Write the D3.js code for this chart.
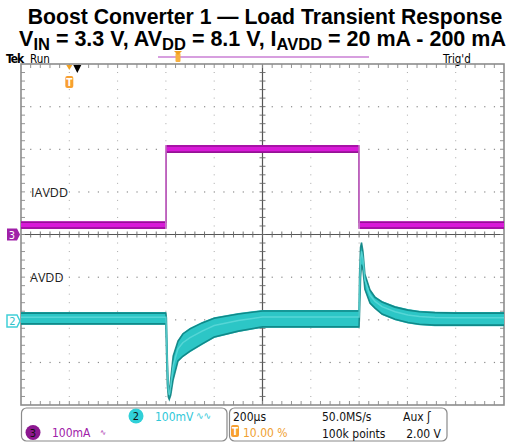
<!DOCTYPE html>
<html><head><meta charset="utf-8">
<script src="https://cdn.jsdelivr.net/npm/d3@7"></script>
<style>
html,body{margin:0;padding:0;background:#fff;}
svg{display:block;}
</style></head>
<body>
<svg id="c" width="515" height="444"></svg>
<script>
// ---- data (time in µs relative to trigger, 200 µs/div) ----
const timeTicks = [-200, 0, 200, 400, 600, 800, 1000, 1200, 1400, 1600, 1800];
// Channel 3: IAVDD current band (mA), 100 mA/div
const curTime = [-200, 400, 400, 1200, 1200, 1800];
const curHigh = [31, 31, 210, 210, 31, 31];
const curLow  = [13, 13, 191, 191, 13, 13];
// Channel 2: AVDD ripple band (mV, AC), 100 mV/div
const volTime = [-200, 400, 402, 406, 410, 414, 420, 430, 450, 470, 500, 550, 600, 700, 800, 1000, 1200, 1202, 1206, 1210, 1216, 1224, 1245, 1266, 1295, 1349, 1402, 1450, 1514, 1600, 1800];
const volHigh = [21, 21, 10, -90, -150, -165, -135, -80, -45, -28, -16, -2, 9, 19, 26, 26, 26, 110, 175, 186, 165, 112, 75, 58, 47, 35, 28, 24, 22, 21, 21];
const volLow  = [-9, -9, -60, -150, -180, -186, -176, -140, -96, -85, -73, -56, -40, -26, -16, -16, -16, 20, 100, 130, 118, 72, 40, 28, 14, 2, -6, -10, -12, -12, -12];
const ch2Offset = 203; // marker position (mV relative to centre)
const chan2Label = "100mV", chan3Label = "100mA";
const timebase = "200µs", sampleRate = "50.0MS/s", recordLen = "100k points", trigPos = "10.00 %", trigSrc = "Aux", trigLevel = "2.00 V";

const svg = d3.select("#c");
const L = 21, R = 504, T = 64, B = 405;
const x = d3.scaleLinear().domain([-200, 1800]).range([L, R]);
const yI = d3.scaleLinear().domain([-400, 400]).range([B, T]);
const yV = d3.scaleLinear().domain([-400 + ch2Offset, 400 + ch2Offset]).range([B, T]);
const divX = (R - L) / 10, divY = (B - T) / 8;

// ---- title ----
svg.append("text").attr("x", 265).attr("y", 23.5).attr("text-anchor", "middle")
  .attr("font-family", "Liberation Sans, Arial, sans-serif").attr("font-weight", "bold").attr("font-size", 21.2).attr("fill", "#000")
  .text("Boost Converter 1 — Load Transient Response");
const sub = svg.append("text").attr("x", 262.5).attr("y", 46).attr("text-anchor", "middle")
  .attr("font-family", "Liberation Sans, Arial, sans-serif").attr("font-weight", "bold").attr("font-size", 21.5).attr("fill", "#000");
const parts = [["V",0],["IN",1],[" = 3.3 V, AV",0],["DD",1],[" = 8.1 V, I",0],["AVDD",1],[" = 20 mA - 200 mA",0]];
parts.forEach((p, i) => {
  const t = sub.append("tspan").text(p[0]);
  if (p[1]) t.attr("font-size", 16.5).attr("dy", 4);
  else if (i > 0) t.attr("dy", -4);
});

// ---- scope header ----
const ui = "DejaVu Sans Condensed, DejaVu Sans, sans-serif";
svg.append("text").attr("x", 6).attr("y", 63).attr("font-family", ui).attr("font-weight", "bold").attr("font-size", 12).attr("letter-spacing", -1).text("Tek");
svg.append("text").attr("x", 30).attr("y", 63).attr("font-family", ui).attr("font-size", 11.5).text("Run");
svg.append("text").attr("x", 443).attr("y", 63).attr("font-family", ui).attr("font-size", 11.5).text("Trig'd");
svg.append("line").attr("x1", 158).attr("x2", 369).attr("y1", 57).attr("y2", 57).attr("stroke", "#b040c0").attr("stroke-width", 1.2);
svg.append("rect").attr("x", 175.5).attr("y", 53).attr("width", 5).attr("height", 9).attr("rx", 1).attr("fill", "#f8b040");
svg.append("path").attr("d", "M174,51 L182,51 L178,55 Z").attr("fill", "#f0a020");

// ---- graticule ----
const g = svg.append("g");
for (let i = 1; i < 10; i++) {
  if (i === 5) continue;
  const xx = L + i * divX;
  for (let k = 1; k < 40; k++) {
    if (k % 5 === 0) continue;
    g.append("rect").attr("x", xx - 0.5).attr("y", T + k * divY / 5 - 0.5).attr("width", 1).attr("height", 1).attr("fill", "#a8a8a8");
  }
}
for (let j = 1; j < 8; j++) {
  if (j === 4) continue;
  const yy = T + j * divY;
  for (let k = 1; k < 50; k++) {
    g.append("rect").attr("x", L + k * divX / 5 - 0.5).attr("y", yy - 0.5).attr("width", 1.2).attr("height", 1.2).attr("fill", "#8a8a8a");
  }
}
const cx = L + 5 * divX, cy = T + 4 * divY;
g.append("line").attr("x1", L).attr("x2", R).attr("y1", cy).attr("y2", cy).attr("stroke", "#555").attr("stroke-width", 1.2);
g.append("line").attr("x1", cx).attr("x2", cx).attr("y1", T).attr("y2", B).attr("stroke", "#555").attr("stroke-width", 1.2);
for (let k = 1; k < 50; k++) {
  const xx = L + k * divX / 5;
  g.append("line").attr("x1", xx).attr("x2", xx).attr("y1", cy - 3).attr("y2", cy + 3).attr("stroke", "#666").attr("stroke-width", 0.9);
  g.append("line").attr("x1", xx).attr("x2", xx).attr("y1", T).attr("y2", T + 4).attr("stroke", "#888").attr("stroke-width", 0.9);
  g.append("line").attr("x1", xx).attr("x2", xx).attr("y1", B - 4).attr("y2", B).attr("stroke", "#888").attr("stroke-width", 0.9);
}
for (let k = 1; k < 40; k++) {
  const yy = T + k * divY / 5;
  g.append("line").attr("x1", cx - 3).attr("x2", cx + 3).attr("y1", yy).attr("y2", yy).attr("stroke", "#666").attr("stroke-width", 0.9);
  g.append("line").attr("x1", L).attr("x2", L + 4).attr("y1", yy).attr("y2", yy).attr("stroke", "#888").attr("stroke-width", 0.9);
  g.append("line").attr("x1", R - 4).attr("x2", R).attr("y1", yy).attr("y2", yy).attr("stroke", "#888").attr("stroke-width", 0.9);
}
g.append("rect").attr("x", L).attr("y", T).attr("width", R - L).attr("height", B - T).attr("fill", "none").attr("stroke", "#8c8c8c").attr("stroke-width", 1.6);

// ---- traces ----
function band(ts, hi, lo, ys, fill, edge, thin) {
  const d = ts.map((t, i) => ({t, hi: hi[i], lo: lo[i]}));
  const area = d3.area().x(p => x(p.t)).y0(p => ys(p.lo)).y1(p => ys(p.hi));
  svg.append("path").datum(d).attr("d", d3.line().x(p => x(p.t)).y(p => ys((p.hi + p.lo) / 2))).attr("fill", "none").attr("stroke", thin).attr("stroke-width", 1.2);
  svg.append("path").datum(d).attr("d", area).attr("fill", fill);
  svg.append("path").datum(d).attr("d", d3.line().x(p => x(p.t)).y(p => ys(p.hi) + 1)).attr("fill", "none").attr("stroke", edge).attr("stroke-width", 1.6).attr("opacity", 0.85);
  svg.append("path").datum(d).attr("d", d3.line().x(p => x(p.t)).y(p => ys(p.lo) - 1)).attr("fill", "none").attr("stroke", edge).attr("stroke-width", 1.6).attr("opacity", 0.85);
  return d;
}
const curD = band(curTime, curHigh, curLow, yI, "#d81ad8", "#8a108a", "#d890d8");
const volD = band(volTime, volHigh, volLow, yV, "#2cc6c6", "#0c7e7e", "#40c0c0");
svg.append("path").datum(volD).attr("d", d3.line().x(p => x(p.t)).y(p => yV(p.hi * 0.6 + p.lo * 0.4))).attr("fill", "none").attr("stroke", "#60dada").attr("stroke-width", 1.5).attr("opacity", 0.8);
[curTime[1], curTime[3]].forEach(t => {
  svg.append("line").attr("x1", x(t)).attr("x2", x(t)).attr("y1", yI(curHigh[2])).attr("y2", yI(curLow[0])).attr("stroke", "#d890d8").attr("stroke-width", 1.3);
});

// ---- labels ----
svg.append("text").attr("x", 31).attr("y", 197).attr("font-family", "Open Sans, sans-serif").attr("font-size", 12.5).attr("fill", "#222").text("IAVDD");
svg.append("text").attr("x", 30).attr("y", 282).attr("font-family", "Open Sans, sans-serif").attr("font-size", 12.5).attr("fill", "#222").text("AVDD");

// ---- channel markers ----
const m3y = yI(0), m2y = yV(0);
svg.append("path").attr("d", `M7,${m3y-6} L17,${m3y-6} L20,${m3y} L17,${m3y+6} L7,${m3y+6} Z`).attr("fill", "#a020a8");
svg.append("text").attr("x", 12).attr("y", m3y + 4).attr("text-anchor", "middle").attr("font-family", ui).attr("font-size", 11).attr("fill", "#fff").text("3");
svg.append("path").attr("d", `M7,${m2y-6} L17,${m2y-6} L20,${m2y} L17,${m2y+6} L7,${m2y+6} Z`).attr("fill", "#fff").attr("stroke", "#40d0d8").attr("stroke-width", 1.5);
svg.append("text").attr("x", 12.5).attr("y", m2y + 4).attr("text-anchor", "middle").attr("font-family", ui).attr("font-size", 11).attr("fill", "#30c0c8").text("2");

// trigger markers
const tx = x(0);
svg.append("path").attr("d", `M${tx-3},${T+1} L${tx+3},${T+1} L${tx},${T+6} Z`).attr("fill", "#f0a020");
svg.append("path").attr("d", `M${tx+4},${T+1} L${tx+12},${T+1} L${tx+8},${T+9} Z`).attr("fill", "#000");
svg.append("rect").attr("x", tx - 4).attr("y", T + 12).attr("width", 8).attr("height", 12).attr("rx", 2).attr("fill", "#f8a030");
svg.append("text").attr("x", tx).attr("y", T + 22).attr("text-anchor", "middle").attr("font-family", ui).attr("font-weight", "bold").attr("font-size", 10).attr("fill", "#fff").text("T");

// ---- bottom info boxes ----
svg.append("rect").attr("x", 21.5).attr("y", 408).attr("width", 205.5).attr("height", 33).attr("rx", 5).attr("fill", "#fff").attr("stroke", "#8a8a8a").attr("stroke-width", 1.2);
svg.append("rect").attr("x", 229.5).attr("y", 408).attr("width", 217.5).attr("height", 33).attr("rx", 5).attr("fill", "#fff").attr("stroke", "#8a8a8a").attr("stroke-width", 1.2);
svg.append("circle").attr("cx", 136).attr("cy", 416).attr("r", 7.5).attr("fill", "#30d0d8");
svg.append("text").attr("x", 136).attr("y", 420).attr("text-anchor", "middle").attr("font-family", ui).attr("font-size", 11).attr("fill", "#111").text("2");
svg.append("text").attr("x", 155).attr("y", 420.5).attr("font-family", ui).attr("font-size", 12).attr("fill", "#30c8d8").text(chan2Label);
svg.append("text").attr("x", 196).attr("y", 419).attr("font-family", ui).attr("font-size", 10).attr("fill", "#30c8d8").text("∿∿");
svg.append("circle").attr("cx", 33).attr("cy", 432.5).attr("r", 7.5).attr("fill", "#8c1890");
svg.append("text").attr("x", 33).attr("y", 436.5).attr("text-anchor", "middle").attr("font-family", ui).attr("font-size", 11).attr("fill", "#111").text("3");
svg.append("text").attr("x", 52).attr("y", 437).attr("font-family", ui).attr("font-size", 12).attr("fill", "#a020a8").text(chan3Label);
svg.append("text").attr("x", 100).attr("y", 435).attr("font-family", ui).attr("font-size", 8).attr("fill", "#a020a8").text("∿");

svg.append("text").attr("x", 233).attr("y", 421).attr("font-family", ui).attr("font-size", 12).attr("fill", "#111").text(timebase);
svg.append("rect").attr("x", 231).attr("y", 425).attr("width", 8).attr("height", 12).attr("rx", 2).attr("fill", "#f8a030");
svg.append("text").attr("x", 235).attr("y", 435).attr("text-anchor", "middle").attr("font-family", ui).attr("font-weight", "bold").attr("font-size", 10).attr("fill", "#fff").text("T");
svg.append("text").attr("x", 243).attr("y", 437).attr("font-family", ui).attr("font-size", 12).attr("fill", "#f0a030").text(trigPos);
svg.append("text").attr("x", 322).attr("y", 421).attr("font-family", ui).attr("font-size", 12).attr("fill", "#111").text(sampleRate);
svg.append("text").attr("x", 322).attr("y", 437.5).attr("font-family", ui).attr("font-size", 12).attr("fill", "#111").text(recordLen);
svg.append("text").attr("x", 403).attr("y", 421).attr("font-family", ui).attr("font-size", 12).attr("fill", "#111").text(trigSrc + "  ʃ");
svg.append("text").attr("x", 441).attr("y", 437.5).attr("text-anchor", "end").attr("font-family", ui).attr("font-size", 12).attr("fill", "#111").text(trigLevel);
</script>
</body></html>
